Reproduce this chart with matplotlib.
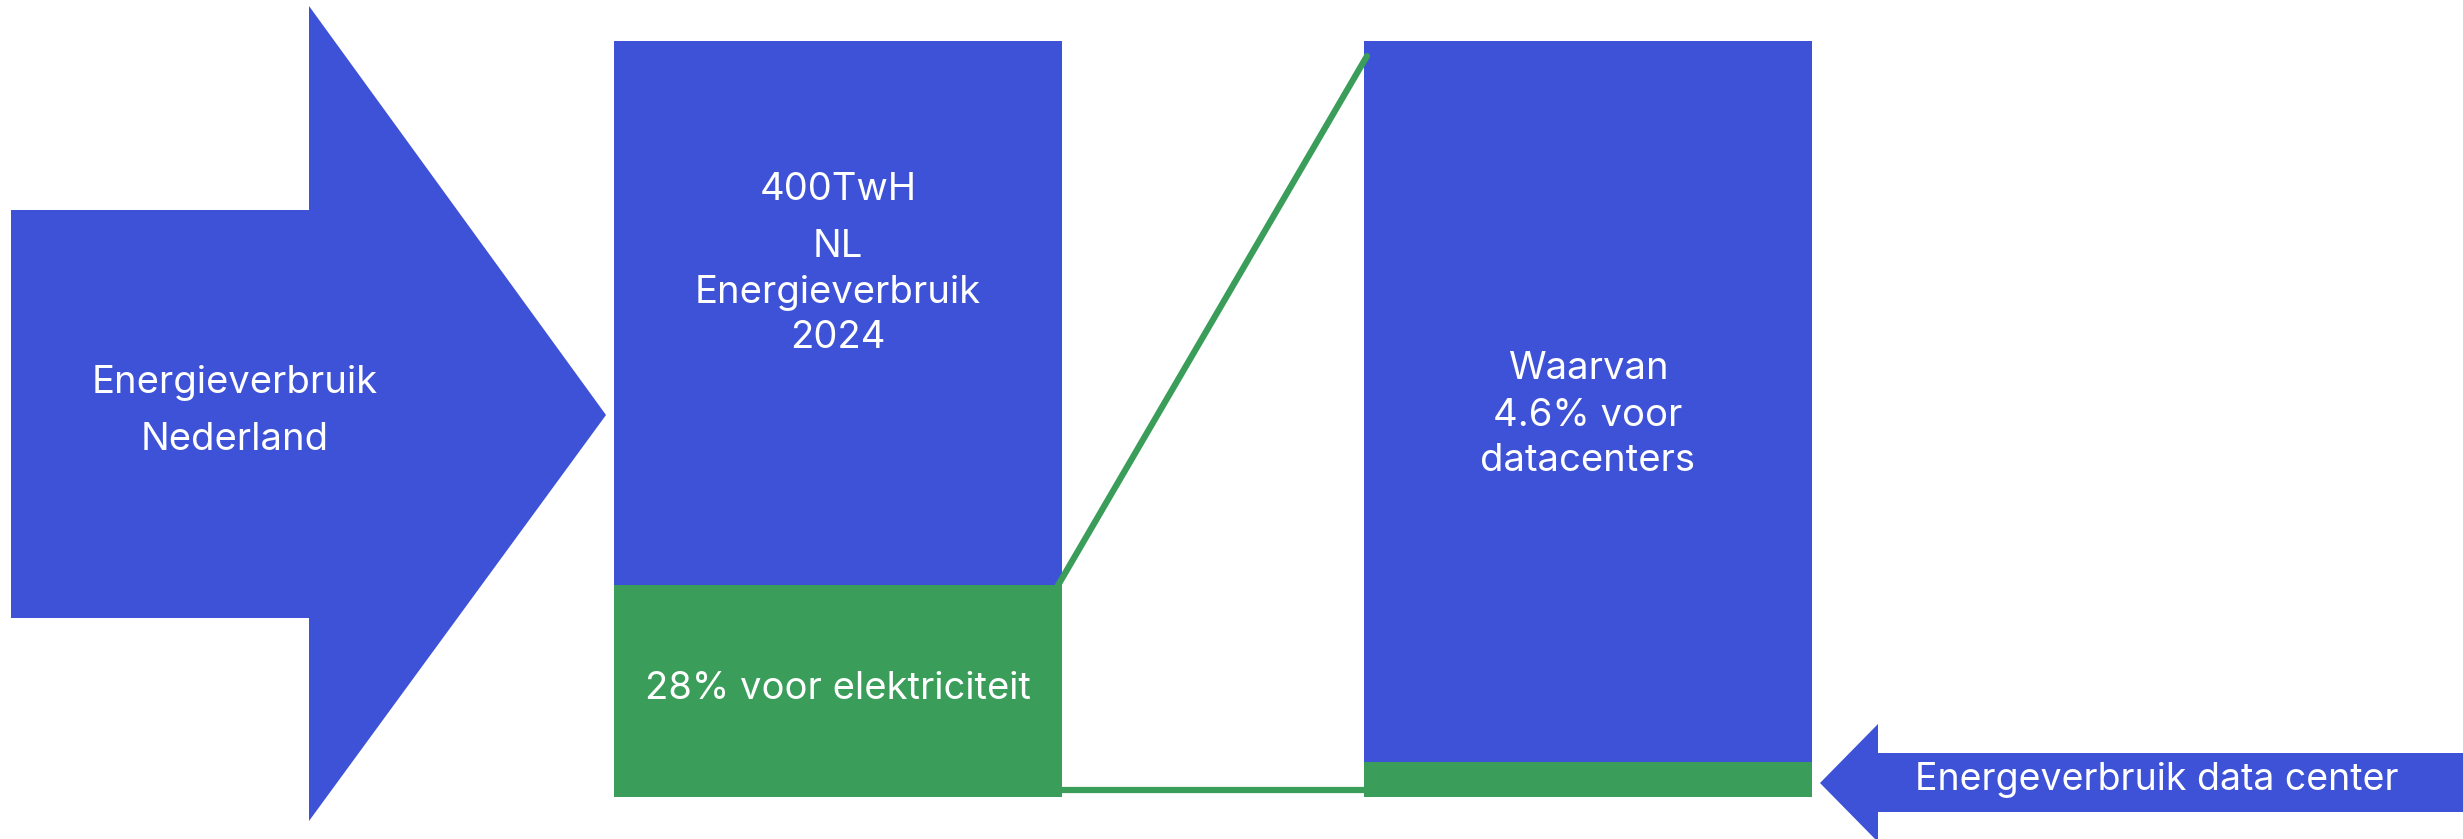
import matplotlib
matplotlib.use("Agg")
import matplotlib.pyplot as plt
from matplotlib.patches import Polygon

# ---- data ----
total_label = "400TwH"
electricity_share = [72, 28]      # rest, electricity (% of total energy)
datacenter_share = [95.4, 4.6]    # rest, datacenters (% of electricity)

BLUE = "#3D52D6"
GREEN = "#3A9E5A"
FONT = ["Inter", "DejaVu Sans"]
NARROW = ["Liberation Sans Narrow", "DejaVu Sans Condensed", "Inter", "DejaVu Sans"]

W, H = 2463, 839
fig = plt.figure(figsize=(W / 100, H / 100), dpi=100)
fig.patch.set_facecolor("white")

# bar axes: y in percent, 0 at pixel 797, 100 at pixel 41
y0_px, y100_px = 797, 41
ppu = (y0_px - y100_px) / 100.0
axb = fig.add_axes([0, 0, 1, 1])
axb.set_xlim(0, W)
axb.set_ylim(-(H - y0_px) / ppu, 100 + y100_px / ppu)
axb.axis("off")

# pixel-space axes for shapes/text (on top)
ax = fig.add_axes([0, 0, 1, 1], facecolor="none")
ax.set_xlim(0, W)
ax.set_ylim(H, 0)
ax.axis("off")

def py(p):
    return (y0_px - p) / ppu

bar_x = [838, 1588]
bw = 448
axb.bar(bar_x[0], electricity_share[1], width=bw, bottom=0, color=GREEN, linewidth=0)
axb.bar(bar_x[0], electricity_share[0], width=bw, bottom=electricity_share[1], color=BLUE, linewidth=0)
axb.bar(bar_x[1], datacenter_share[1], width=bw, bottom=0, color=GREEN, linewidth=0)
axb.bar(bar_x[1], datacenter_share[0], width=bw, bottom=datacenter_share[1], color=BLUE, linewidth=0)

# connector lines
x1r = bar_x[0] + bw / 2
x2l = bar_x[1] - bw / 2
axb.plot([x1r - 4, x2l + 3], [electricity_share[1], py(56)], color=GREEN, lw=4.5,
         solid_capstyle="round", zorder=3)
axb.plot([x1r, x2l], [py(790), py(790)], color=GREEN, lw=4.5, zorder=3)

# big right arrow
left_arrow = [(11, 210), (309, 210), (309, 6), (606, 415), (309, 821), (309, 618), (11, 618)]
ax.add_patch(Polygon(left_arrow, closed=True, facecolor=BLUE, edgecolor="none"))

# small left-pointing arrow
right_arrow = [(W, 753), (1878, 753), (1878, 724), (1820, 783), (1878, 842), (1878, 812), (W, 812)]
ax.add_patch(Polygon(right_arrow, closed=True, facecolor=BLUE, edgecolor="none"))

fs = 27.5
tk = dict(color="white", ha="center", va="center", fontsize=fs, family=FONT)
ax.text(235, 383, "Energieverbruik", **tk)
ax.text(235, 440, "Nederland", **tk)

ax.text(838, 190, total_label, **tk)
ax.text(838, 247, "NL", **tk)
ax.text(838, 293, "Energieverbruik", **tk)
ax.text(838, 338, "2024", **tk)
ax.text(838, 689, f"{electricity_share[1]}% voor elektriciteit", **tk)

ax.text(1588, 369, "Waarvan", **tk)
ax.text(1588, 416, f"{datacenter_share[1]}% voor", **tk)
ax.text(1588, 461, "datacenters", **tk)

ax.text(2157, 780, "Energeverbruik data center", color="white", ha="center", va="center",
        fontsize=27, family=NARROW)

fig.savefig("out.png", dpi=100, facecolor="white")
